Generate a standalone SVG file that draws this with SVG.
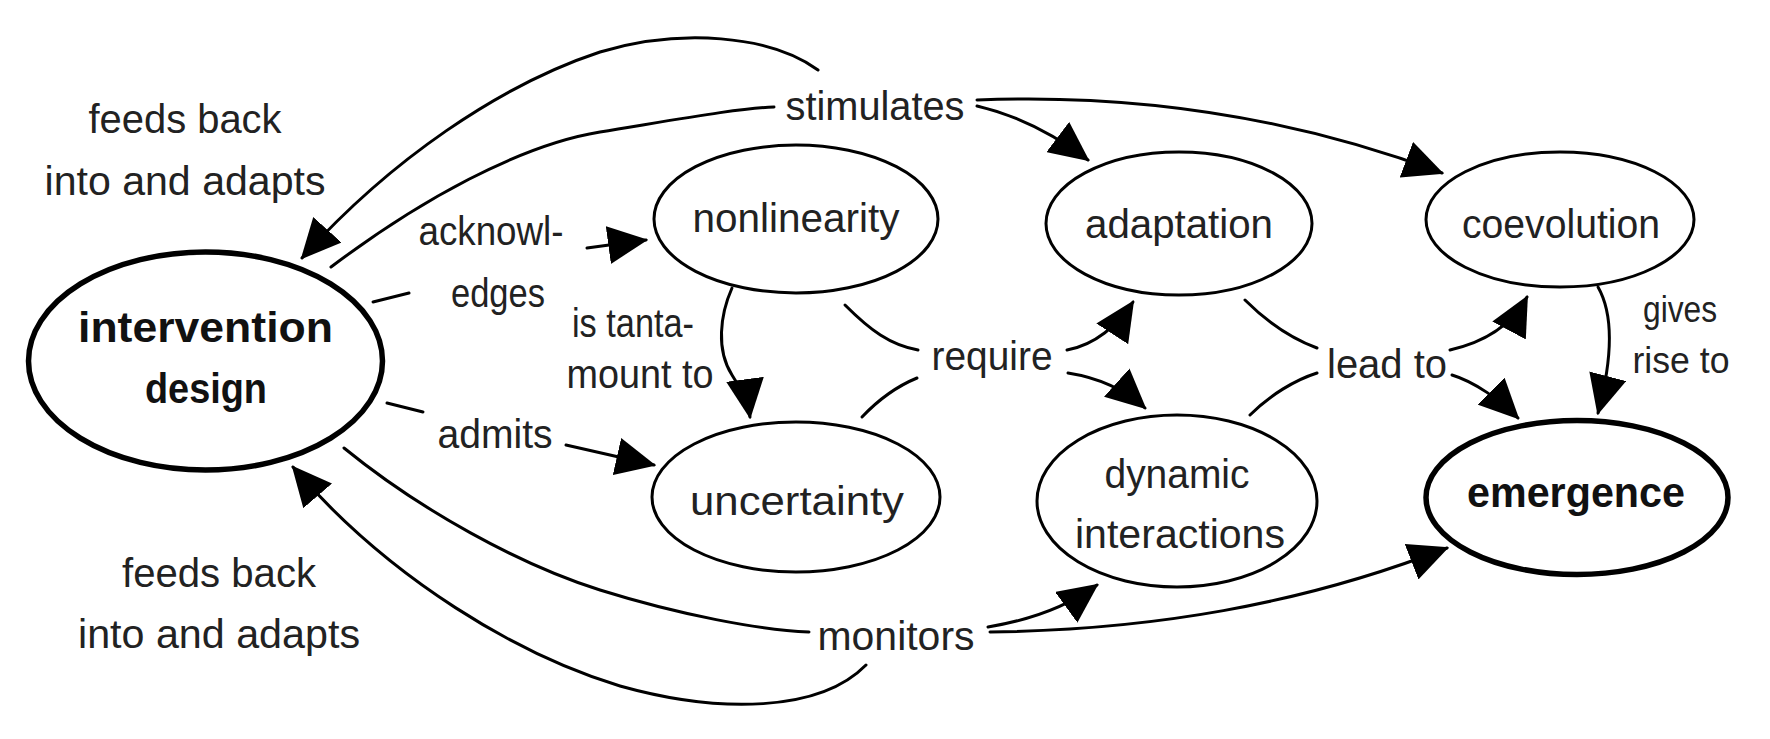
<svg xmlns="http://www.w3.org/2000/svg" width="1770" height="739" viewBox="0 0 1770 739">
<defs>
<marker id="ah" viewBox="0 0 40 38" refX="38" refY="19" markerWidth="40" markerHeight="38" markerUnits="userSpaceOnUse" orient="auto">
<path d="M0,0 L40,19 L0,38 z" fill="#000"/>
</marker>
</defs>
<style>
.n{fill:#fff;stroke:#000;stroke-width:3}
.nb{fill:#fff;stroke:#000;stroke-width:5.5}
.t{font-family:"Liberation Sans",Arial,sans-serif;font-size:40px;fill:#222;text-anchor:middle}
.tb{font-family:"Liberation Sans",Arial,sans-serif;font-size:42px;font-weight:bold;fill:#111;text-anchor:middle}
.c{fill:none;stroke:#000;stroke-width:3;stroke-linecap:round}
.a{marker-end:url(#ah)}
</style>
<rect width="1770" height="739" fill="#fff"/>
<g id="connectors">
<path class="c" d="M373 302 L409 293"/>
<path class="c a" d="M587 248 L646 240"/>
<path class="c" d="M387 403 L423 412"/>
<path class="c a" d="M566 445 L654 465"/>
<path class="c" d="M331 267 C420 200 520 145 600 132 C680 119 740 108 774 107"/>
<path class="c a" d="M818 70 C770 35 680 28 600 52 C500 85 390 160 302 258"/>
<path class="c a" d="M977 106 C1020 116 1055 135 1088 160"/>
<path class="c a" d="M977 100 C1100 95 1260 105 1442 173"/>
<path class="c a" d="M732 288 C720 315 716 350 732 375 C742 390 748 402 750 417"/>
<path class="c" d="M845 305 C870 330 890 345 918 350"/>
<path class="c" d="M862 417 C880 398 900 385 917 378"/>
<path class="c a" d="M1067 350 C1095 345 1118 325 1133 302"/>
<path class="c a" d="M1068 373 C1100 378 1125 390 1145 408"/>
<path class="c" d="M1245 300 C1265 320 1290 338 1317 348"/>
<path class="c" d="M1250 415 C1270 395 1295 380 1317 373"/>
<path class="c a" d="M1450 350 C1485 342 1512 325 1527 297"/>
<path class="c a" d="M1452 375 C1475 382 1500 400 1518 418"/>
<path class="c a" d="M1598 287 C1614 315 1612 360 1598 413"/>
<path class="c" d="M344 448 C420 510 520 565 600 590 C680 615 760 630 809 632"/>
<path class="c a" d="M866 665 C820 712 720 714 620 686 C520 656 390 580 293 467"/>
<path class="c a" d="M988 627 C1030 620 1068 606 1097 585"/>
<path class="c a" d="M990 632 C1150 630 1300 605 1447 548"/>
</g>
<g id="intervention-design">
<ellipse class="nb" cx="205.5" cy="361" rx="177" ry="109"/>
<text class="tb" x="205.5" y="342" textLength="255" lengthAdjust="spacingAndGlyphs">intervention</text>
<text class="tb" x="206" y="403" textLength="122" lengthAdjust="spacingAndGlyphs">design</text>
</g>
<g id="nonlinearity">
<ellipse class="n" cx="796" cy="219" rx="142" ry="74"/>
<text class="t" x="796" y="232" textLength="207" lengthAdjust="spacingAndGlyphs">nonlinearity</text>
</g>
<g id="uncertainty">
<ellipse class="n" cx="796" cy="497" rx="144" ry="75"/>
<text class="t" x="797" y="515" textLength="214" lengthAdjust="spacingAndGlyphs">uncertainty</text>
</g>
<g id="adaptation">
<ellipse class="n" cx="1179" cy="223.5" rx="133" ry="71.5"/>
<text class="t" x="1179" y="238" textLength="188" lengthAdjust="spacingAndGlyphs">adaptation</text>
</g>
<g id="dynamic-interactions">
<ellipse class="n" cx="1177" cy="501" rx="140" ry="86"/>
<text class="t" x="1177" y="488" textLength="145" lengthAdjust="spacingAndGlyphs">dynamic</text>
<text class="t" x="1180" y="548" textLength="210" lengthAdjust="spacingAndGlyphs">interactions</text>
</g>
<g id="coevolution">
<ellipse class="n" cx="1560" cy="219.5" rx="134" ry="67.5"/>
<text class="t" x="1561" y="238" textLength="198" lengthAdjust="spacingAndGlyphs">coevolution</text>
</g>
<g id="emergence">
<ellipse class="nb" cx="1577" cy="497.5" rx="151" ry="77"/>
<text class="tb" x="1576" y="507" textLength="218" lengthAdjust="spacingAndGlyphs">emergence</text>
</g>
<g id="labels">
<text class="t" x="185" y="133" textLength="193" lengthAdjust="spacingAndGlyphs">feeds back</text>
<text class="t" x="185" y="195" textLength="281" lengthAdjust="spacingAndGlyphs">into and adapts</text>
<text class="t" x="219" y="587" textLength="194" lengthAdjust="spacingAndGlyphs">feeds back</text>
<text class="t" x="219" y="648" textLength="282" lengthAdjust="spacingAndGlyphs">into and adapts</text>
<text class="t" x="875" y="120" textLength="179" lengthAdjust="spacingAndGlyphs">stimulates</text>
<text class="t" x="491" y="245" textLength="145" lengthAdjust="spacingAndGlyphs">acknowl-</text>
<text class="t" x="498" y="307" textLength="94" lengthAdjust="spacingAndGlyphs">edges</text>
<text class="t" x="633" y="337" textLength="122" lengthAdjust="spacingAndGlyphs">is tanta-</text>
<text class="t" x="640" y="388" textLength="147" lengthAdjust="spacingAndGlyphs">mount to</text>
<text class="t" x="495" y="448" textLength="115" lengthAdjust="spacingAndGlyphs">admits</text>
<text class="t" x="992" y="370" textLength="121" lengthAdjust="spacingAndGlyphs">require</text>
<text class="t" x="1387" y="378" textLength="120" lengthAdjust="spacingAndGlyphs">lead to</text>
<text class="t" x="1680" y="322" style="font-size:36px" textLength="74" lengthAdjust="spacingAndGlyphs">gives</text>
<text class="t" x="1681" y="373" style="font-size:36px" textLength="97" lengthAdjust="spacingAndGlyphs">rise to</text>
<text class="t" x="896" y="650" textLength="157" lengthAdjust="spacingAndGlyphs">monitors</text>
</g>
</svg>
